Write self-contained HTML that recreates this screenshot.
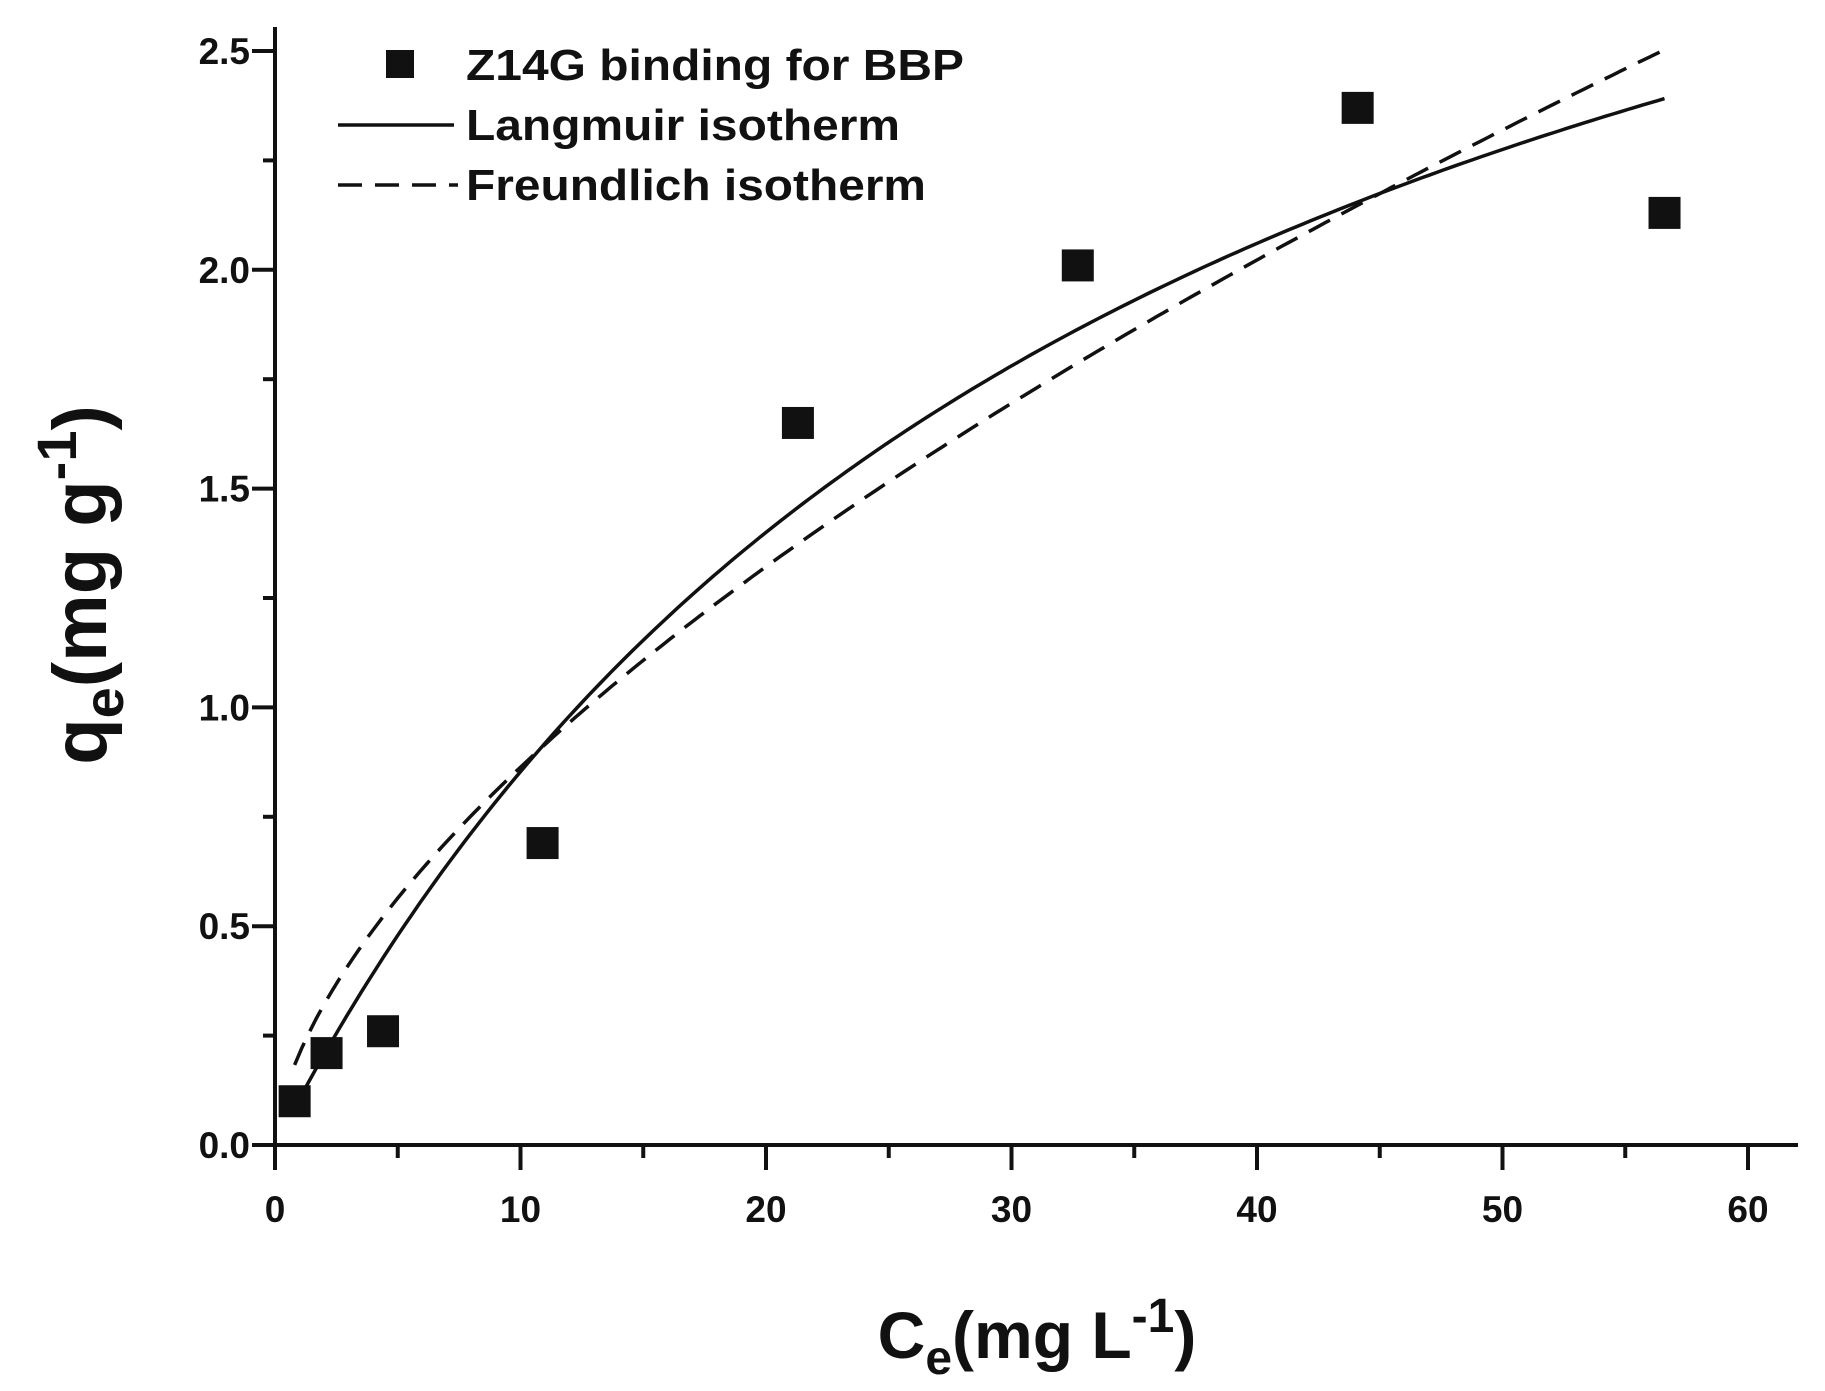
<!DOCTYPE html>
<html><head><meta charset="utf-8"><style>
html,body{margin:0;padding:0;background:#fff;}
svg{display:block;font-family:"Liberation Sans",Arial,sans-serif;font-weight:bold;}
</style></head><body>
<svg id="s" width="1825" height="1391" viewBox="0 0 1825 1391" xmlns="http://www.w3.org/2000/svg">
<g stroke="#111" stroke-width="4" fill="none">
<line x1="275" y1="27" x2="275" y2="1147"/>
<line x1="273" y1="1145" x2="1798" y2="1145"/>
</g>
<g id="ticks" stroke="#111" stroke-width="4"></g>
<g id="labels" font-size="37" fill="#111"></g>
<path id="lang" fill="none" stroke="#111" stroke-width="3.5"/>
<path id="freu" fill="none" stroke="#111" stroke-width="3.5" stroke-dasharray="24,13"/>
<g id="pts" fill="#111"></g>
<!-- legend -->
<rect x="386" y="50" width="28" height="28" fill="#111"/>
<text x="466" y="80" font-size="44" fill="#111" textLength="498" lengthAdjust="spacingAndGlyphs">Z14G binding for BBP</text>
<line x1="338" y1="125" x2="454" y2="125" stroke="#111" stroke-width="3.5"/>
<text x="466" y="140" font-size="44" fill="#111" textLength="434" lengthAdjust="spacingAndGlyphs">Langmuir isotherm</text>
<line x1="338" y1="185" x2="458" y2="185" stroke="#111" stroke-width="3.5" stroke-dasharray="24,13"/>
<text x="466" y="200" font-size="44" fill="#111" textLength="460" lengthAdjust="spacingAndGlyphs">Freundlich isotherm</text>
<!-- axis titles -->
<text x="1037" y="1358" font-size="66" text-anchor="middle" fill="#111">C<tspan font-size="48" dy="16">e</tspan><tspan dy="-16">(mg L</tspan><tspan font-size="48" dy="-26">-1</tspan><tspan dy="26">)</tspan></text>
<text transform="translate(106,585) rotate(-90)" font-size="76" text-anchor="middle" fill="#111">q<tspan font-size="56" dy="17">e</tspan><tspan dy="-17">(mg g</tspan><tspan font-size="56" dy="-30">-1</tspan><tspan dy="30">)</tspan></text>
</svg>
<script>
var X=function(c){return 275+c*24.55}, Y=function(q){return 1145-q*437.6};
var t=document.getElementById('ticks'),l=document.getElementById('labels'),ns='http://www.w3.org/2000/svg';
function ln(a,b,c,d){var e=document.createElementNS(ns,'line');e.setAttribute('x1',a);e.setAttribute('y1',b);e.setAttribute('x2',c);e.setAttribute('y2',d);t.appendChild(e);}
function tx(x,y,s,anc){var e=document.createElementNS(ns,'text');e.setAttribute('x',x);e.setAttribute('y',y);e.setAttribute('text-anchor',anc);e.textContent=s;l.appendChild(e);}
for(var i=0;i<=12;i++){var x=X(i*5);if(i%2==0){ln(x,1145,x,1170);tx(x,1222,String(i*5),'middle');}else ln(x,1145,x,1158);}
for(var j=0;j<=10;j++){var y=Y(j*0.25);if(j%2==0){ln(252,y,275,y);tx(250,y+13,(j*0.25).toFixed(1),'end');}else ln(263,y,275,y);}
var dl='',df='';
for(var c=0.8;c<=56.65;c+=0.3){var q=3.9*0.028*c/(1+0.028*c);dl+=(dl?'L':'M')+X(c).toFixed(1)+','+Y(q).toFixed(1);
var f=0.21*Math.pow(c,0.614);df+=(df?'L':'M')+X(c).toFixed(1)+','+Y(f).toFixed(1);}
document.getElementById('lang').setAttribute('d',dl);document.getElementById('freu').setAttribute('d',df);
var P=[[0.8,0.1],[2.1,0.21],[4.4,0.26],[10.9,0.69],[21.3,1.65],[32.7,2.01],[44.1,2.37],[56.6,2.13]];
var g=document.getElementById('pts');
P.forEach(function(p){var r=document.createElementNS(ns,'rect');r.setAttribute('x',X(p[0])-16);r.setAttribute('y',Y(p[1])-16);r.setAttribute('width',32);r.setAttribute('height',32);g.appendChild(r);});
</script>
</body></html>
